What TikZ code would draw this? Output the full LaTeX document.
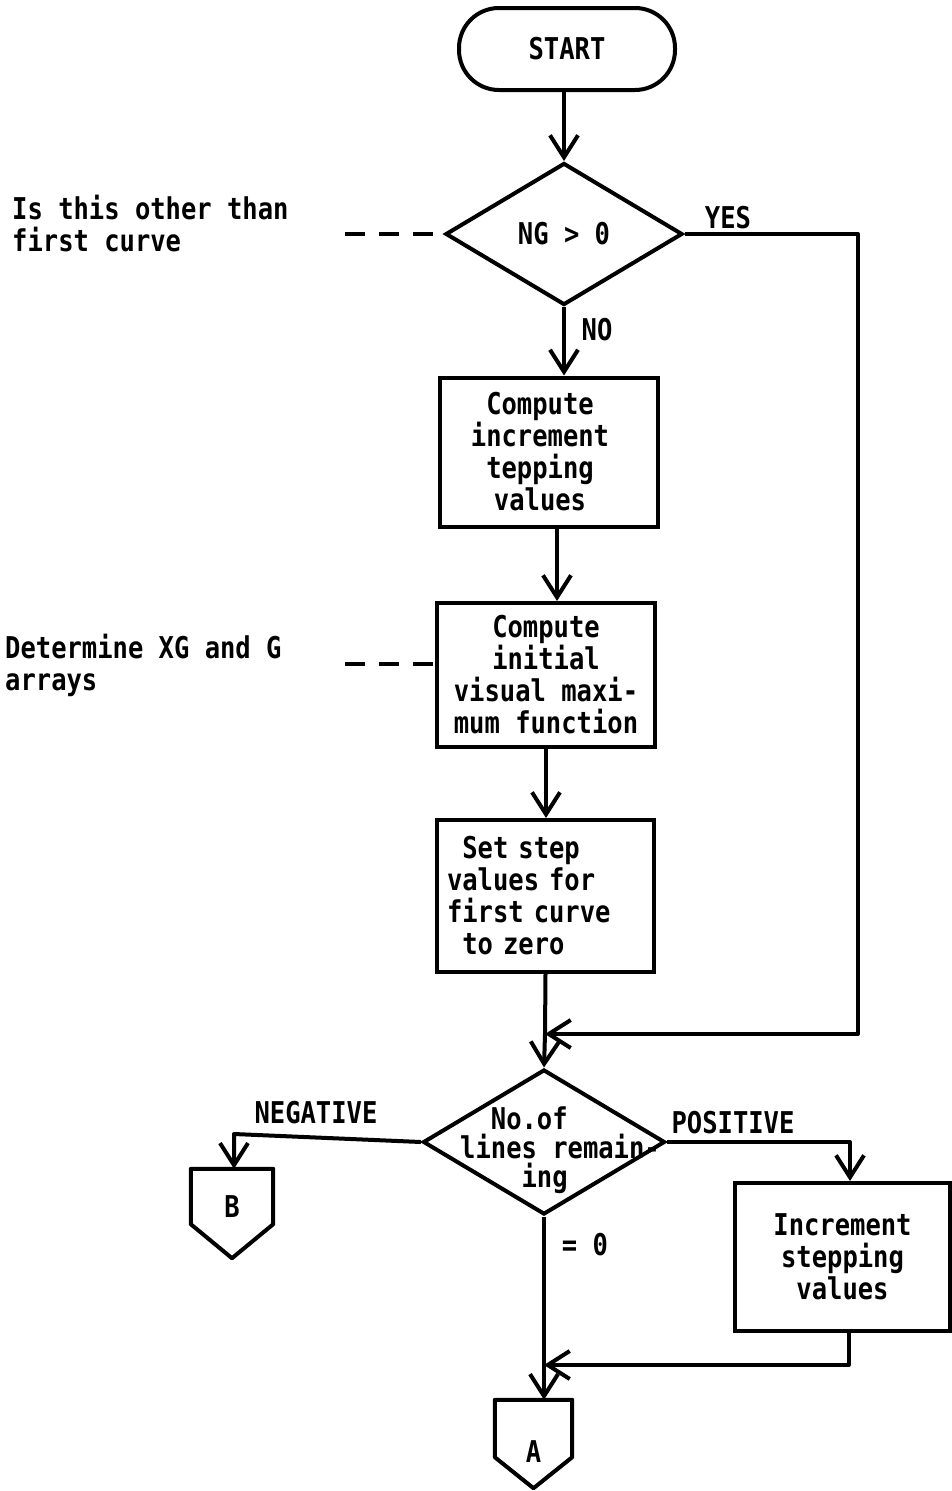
\documentclass[tikz,border=0pt]{standalone}
\usepackage{fontspec}
\newfontfamily\flowfont[FakeStretch=0.85]{DejaVu Sans Mono}
\usetikzlibrary{shapes.geometric,arrows.meta}
\begin{document}
\begin{tikzpicture}[x=1pt,y=-1pt,
  flow/.style={font=\flowfont\bfseries\fontsize{30}{32}\selectfont},
  ln/.style={line width=4pt,line join=round},
  arr/.style={line width=4pt,line join=round,-{Straight Barb[length=22pt,width=28pt]}},
  dashln/.style={line width=4pt,dash pattern=on 20pt off 14pt},
  stepbox/.style={draw,line width=4pt,inner sep=0pt,flow,align=center},
  dia/.style={draw,diamond,line width=4pt,inner sep=0pt},
  pent/.style={rectangle,inner sep=0pt},
  lab/.style={flow,inner sep=0pt},
  note/.style={flow,inner sep=0pt,align=left,anchor=west}]
\useasboundingbox (0,0) rectangle (951,1491);

% terminal
\node[stepbox,rounded corners=40pt,minimum width=216pt,minimum height=82pt] (start) at (567,49) {START};

% first decision
\node[dia,minimum width=237pt,minimum height=142pt] (d1) at (564,234) {};
\node[lab] (d1t) at (d1.center) {NG > 0};
\node[lab] (yes) at (728,218) {YES};
\node[lab] (no) at (597,330) {NO};
\node[note] (n1) at (12,224) {Is this other than\\first curve};
\coordinate (n1end) at (345,234);

% processing boxes
\node[stepbox,minimum width=218pt,minimum height=149pt] (b1) at (549,452) {};
\node[lab,align=center] (b1t) at ([xshift=-9pt]b1.center)
  {Compute\\increment\\tepping\\values};
\node[stepbox,minimum width=218pt,minimum height=144pt] (b2) at (546,675)
  {Compute\\initial\\visual maxi-\\mum function};
\node[note] (n2) at (5,665) {Determine XG and G\\arrays};
\coordinate (n2end) at (345,664);
\node[stepbox,minimum width=217pt,minimum height=152pt,align=left,text width=197pt,inner xsep=10pt] (b3) at (545.5,896)
  {\phantom{x}Set step\\values for\\first curve\\\phantom{x}to zero};

% second decision
\node[dia,minimum width=242pt,minimum height=145pt] (d2) at (544,1142) {};
\node[lab,align=left,font=\flowfont\bfseries\fontsize{30}{29}\selectfont] (d2t) at (560,1150)
  {\phantom{xx}No.of\\lines remain-\\\phantom{xxxx}ing};
\node[lab] (neg) at (316,1113) {NEGATIVE};
\node[lab] (pos) at (733,1123) {POSITIVE};
\node[lab] (zero) at (585,1245) {= 0};
\node[stepbox,minimum width=215pt,minimum height=148pt] (b4) at (842.5,1257)
  {Increment\\stepping\\values};

% off-page connectors (square head, pointed foot)
\node[pent,minimum width=82pt,minimum height=55pt] (B) at (232,1196.5) {};
\draw[ln] (B.south west) -- (B.north west) -- (B.north east) -- (B.south east)
  -- ([yshift=-34pt]B.south) -- cycle;
\node[lab] (Bt) at ([yshift=-10pt]B.center) {B};
\node[pent,minimum width=77pt,minimum height=57pt] (A) at (533.5,1428.5) {};
\draw[ln] (A.south west) -- (A.north west) -- (A.north east) -- (A.south east)
  -- ([yshift=-31pt]A.south) -- cycle;
\node[lab] (At) at ([yshift=-23pt]A.center) {A};

% junction points
\coordinate (mrg) at (545,1034);
\coordinate (yesx) at (858,1034);
\coordinate (negx) at (234,1134);
\coordinate (mrg2) at (544,1365);

% connectors
\draw[arr] (start.south -| d1.north) -- (d1.north);
\draw[arr] (d1.south) -- (d1.south |- b1.north);
\draw[arr] ([xshift=8pt]b1.south) -- ([xshift=11pt]b2.north);
\draw[arr] (b2.south) -- (b2.south |- b3.north);
\draw[ln] (b3.south) -- (mrg);
\draw[arr] (mrg) -- (d2.north);
\draw[arr] (d1.east) -| (yesx) -- (mrg);
\draw[dashln] (n1end) -- (d1.west);
\draw[dashln] (n2end) -- (n2end -| b2.west);
\draw[arr] (d2.west) -- (negx) -- (negx |- B.north);
\draw[arr] (d2.east) -| ([xshift=7.5pt]b4.north);
\draw[arr] ([xshift=6pt]b4.south) |- (mrg2);
\draw[ln] (d2.south) -- (mrg2);
\draw[arr] (mrg2) -- ([xshift=10.5pt]A.north);
\end{tikzpicture}
\end{document}
